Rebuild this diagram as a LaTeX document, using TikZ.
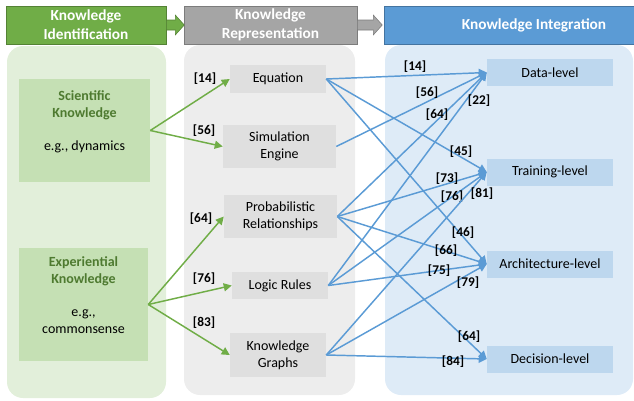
\documentclass[tikz,border=0pt]{standalone}
\usepackage{fontspec}
\setmainfont{Carlito}
\usetikzlibrary{arrows.meta}
\usetikzlibrary{calc}
\definecolor{idgreen}{HTML}{70AD47}
\definecolor{idpanel}{HTML}{E2EFDA}
\definecolor{idbox}{HTML}{C5E0B4}
\definecolor{idtext}{HTML}{4E7A30}
\definecolor{repgray}{HTML}{A5A5A5}
\definecolor{reppanel}{HTML}{EDEDED}
\definecolor{repbox}{HTML}{DFDFDF}
\definecolor{intblue}{HTML}{5B9BD5}
\definecolor{intpanel}{HTML}{DEEBF7}
\definecolor{intbox}{HTML}{BDD7EE}
\newcommand{\idhead}[1]{\textcolor{idtext}{\bfseries #1}}
\tikzset{header/.style={draw=#1!75!black, fill=#1, text=white, align=center,
        inner sep=0pt, minimum height=28.5pt,
        font=\bfseries\fontsize{11.5}{14}\selectfont},
    idnode/.style={fill=idbox, inner sep=0pt},
    idlabel/.style={align=center, inner sep=0pt},
    repnode/.style={fill=repbox, align=center, inner sep=0pt},
    intnode/.style={fill=intbox, inner sep=0pt,
        minimum width=94.5pt, minimum height=20.25pt},
    cite/.style={font=\bfseries\fontsize{10}{12}\selectfont, inner sep=0pt},
    idarrow/.style={draw=idgreen, line width=1.1pt,
        -{Triangle[length=6pt,width=6pt]}},
    intarrow/.style={draw=intblue, line width=1.1pt,
        -{Triangle[length=6pt,width=6pt]}}}
\begin{document}
\begin{tikzpicture}[x=0.75pt, y=-0.75pt, font=\fontsize{10.5}{12.6}\selectfont]
    \useasboundingbox (0,0) rectangle (634,400);

    % panels
    \fill[idpanel, rounded corners=12pt] (7,46) rectangle (166,398);
    \fill[reppanel, rounded corners=12pt] (184,45) rectangle (355,395);
    \fill[intpanel, rounded corners=12pt] (385,45) rectangle (633,395);

    % headers
    \node[header=idgreen, minimum width=120pt] (hid) at (86,25)
    {Knowledge\\Identification};
    \node[header=repgray, minimum width=129.75pt] (hrep) at (270.5,25)
    {Knowledge\\Representation};
    \node[header=intblue, minimum width=225pt] (hint) at (534,25)
    {Knowledge Integration};
    \draw[draw=idgreen!75!black, fill=idgreen] (hid.east) ++(0,-5) -- ++(9,0)
    -- ++(0,-5) -- ++(9,10) -- ++(-9,10) -- ++(0,-5) -- ++(-9,0) -- cycle;
    \draw[draw=repgray!75!black, fill=repgray] (hrep.east) ++(0,-5) -- ++(16,0)
    -- ++(0,-5) -- ++(9,10) -- ++(-9,10) -- ++(0,-5) -- ++(-16,0) -- cycle;

    % identification
    \node[idnode, minimum width=98.25pt, minimum height=77.25pt] (sci) at (84.5,130.5) {};
    \node[idlabel] (scitext) at ($(sci)+(0,-8.5)$)
    {\idhead{Scientific}\\\idhead{Knowledge}\\[12.6pt]e.g., dynamics};
    \node[idnode, minimum width=96.75pt, minimum height=84.75pt] (exp) at (83.5,304.5) {};
    \node[idlabel] (exptext) at ($(exp)+(0,-9.5)$)
    {\idhead{Experiential}\\\idhead{Knowledge}\\[12.6pt]e.g.,\\commonsense};

    % representation
    \node[repnode, minimum width=72pt, minimum height=21pt] (eq) at (278,79) {Equation};
    \node[repnode, minimum width=84.75pt, minimum height=32.25pt] (sim) at (279.5,146.5)
    {Simulation\\Engine};
    \node[repnode, minimum width=84.75pt, minimum height=32.25pt] (prob) at (280.5,216.5)
    {Probabilistic\\Relationships};
    \node[repnode, minimum width=72pt, minimum height=20.25pt] (logic) at (280,285.5)
    {Logic Rules};
    \node[repnode, minimum width=72pt, minimum height=33pt] (kg) at (278,355)
    {Knowledge\\Graphs};

    % integration
    \node[intnode] (data) at (550,72.5) {Data-level};
    \node[intnode] (train) at (550,172) {Training-level};
    \node[intnode] (arch) at (550,264) {Architecture-level};
    \node[intnode] (dec) at (550,359) {Decision-level};

    \foreach \a/\b/\t/\x/\y in {sci/eq/14/205/79, sci/sim/56/204/131,
        exp/prob/64/201/219, exp/logic/76/204/279, exp/kg/83/204/323}
    {
        \draw[idarrow] (\a.east) -- (\b.west);
        \draw (\x,\y) node[cite] {[\t]};
    }

    \foreach \a/\b/\t/\x/\y in {eq/data/14/415/67, eq/train/45/461/152,
        eq/arch/46/463/233, sim/data/56/427/93, prob/data/64/437/115,
        prob/train/73/447/179, prob/arch/66/446/251, prob/dec/64/469/337,
        logic/data/22/479/101, logic/train/76/452/197, logic/arch/75/439/271,
        kg/train/81/482/194, kg/arch/79/468/283, kg/dec/84/453/362}
    {
        \draw[intarrow] (\a.east) -- (\b.west);
        \draw (\x,\y) node[cite] {[\t]};
    }
\end{tikzpicture}
\end{document}
